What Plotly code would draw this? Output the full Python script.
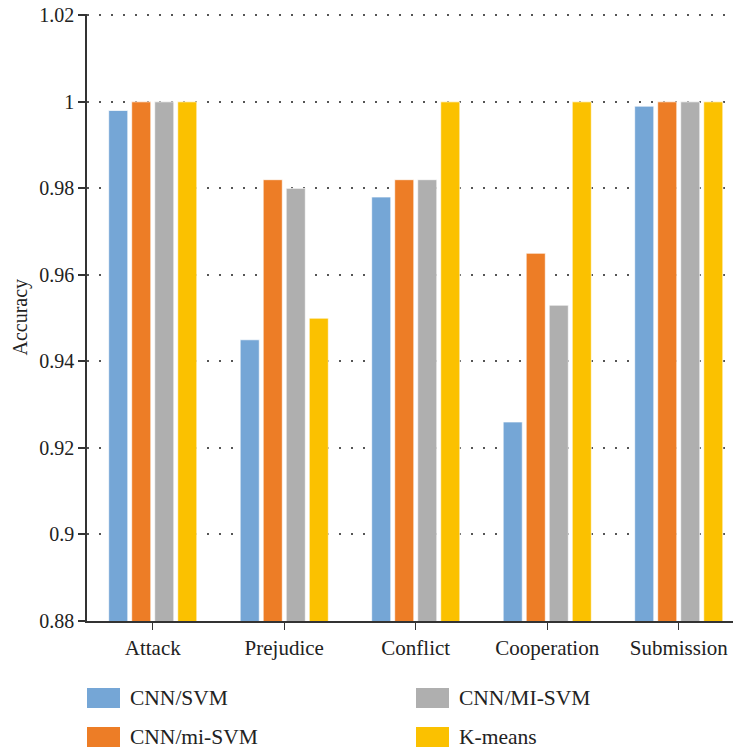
import plotly.graph_objects as go

categories = ["Attack", "Prejudice", "Conflict", "Cooperation", "Submission"]
series_names = ["CNN/SVM", "CNN/mi-SVM", "CNN/MI-SVM", "K-means"]
cnn_svm = [0.998, 0.945, 0.978, 0.926, 0.999]
cnn_mi_svm_lower = [1.0, 0.982, 0.982, 0.965, 1.0]
cnn_mi_svm_upper = [1.0, 0.980, 0.982, 0.953, 1.0]
k_means = [1.0, 0.950, 1.0, 1.0, 1.0]
y_ticks = [0.88, 0.9, 0.92, 0.94, 0.96, 0.98, 1.0, 1.02]
y_tick_labels = ["0.88", "0.9", "0.92", "0.94", "0.96", "0.98", "1", "1.02"]

colors = ["#75A6D6", "#ED7D26", "#AFAFAF", "#FBC100"]
values = [cnn_svm, cnn_mi_svm_lower, cnn_mi_svm_upper, k_means]

FONT = "Liberation Serif"
W, H = 733, 751
L, R, T, B = 87, 0, 14, 130
pw = W - L - R
ph = H - T - B

fig = go.Figure()
for name, col, vals in zip(series_names, colors, values):
    fig.add_trace(go.Bar(
        x=categories, y=vals, name=name,
        marker=dict(color=col, line=dict(color="rgba(255,255,255,0.7)", width=1)),
        showlegend=False,
    ))

# custom legend (2 columns)
legend_pos = [(87, 698), (87, 737), (416, 698), (416, 737)]
shapes = []
annotations = []
for (px, py), name, col in zip(legend_pos, series_names, colors):
    x0 = (px - L) / pw
    x1 = (px + 33 - L) / pw
    y0 = (H - B - (py + 10)) / ph
    y1 = (H - B - (py - 10)) / ph
    shapes.append(dict(type="rect", xref="paper", yref="paper", x0=x0, x1=x1, y0=y0, y1=y1,
                       fillcolor=col, line=dict(width=0)))
    annotations.append(dict(xref="paper", yref="paper", x=(px + 41 - L) / pw,
                            y=(H - B - py) / ph, text=name, showarrow=False,
                            xanchor="left", yanchor="middle",
                            font=dict(family=FONT, size=21.5, color="#222")))

annotations.append(dict(xref="paper", yref="paper", x=(20 - L) / pw, y=0.5,
                        text="Accuracy", textangle=-90, showarrow=False,
                        xanchor="center", yanchor="middle",
                        font=dict(family=FONT, size=20, color="#222")))

n_span = pw / 131.5
fig.update_layout(
    width=W, height=H,
    margin=dict(l=L, r=R, t=T, b=B, autoexpand=False),
    paper_bgcolor="white", plot_bgcolor="white",
    barmode="group", bargap=0.3, bargroupgap=0.17,
    font=dict(family=FONT, size=20, color="#222"),
    shapes=shapes, annotations=annotations,
    xaxis=dict(
        range=[-0.5, -0.5 + n_span], automargin=False,
        showline=True, linecolor="#333", linewidth=1.5,
        ticks="outside", ticklen=7, tickcolor="#333", tickwidth=1,
        showgrid=False, tickfont=dict(family=FONT, size=21, color="#222"),
    ),
    yaxis=dict(
        range=[0.88, 1.0203], tickvals=y_ticks, ticktext=y_tick_labels, automargin=False,
        showline=True, linecolor="#333", linewidth=1.5,
        ticks="outside", ticklen=7, tickcolor="#333", tickwidth=1.5,
        showgrid=True, gridcolor="#555", gridwidth=1.5, griddash="1.5px,10.5px",
        zeroline=False,
        tickfont=dict(family=FONT, size=20, color="#222"),
    ),
)

fig.write_html(
    "out.html",
    config={"displayModeBar": False},
    post_script="document.body.style.margin='0';document.body.style.overflow='hidden';",
)
